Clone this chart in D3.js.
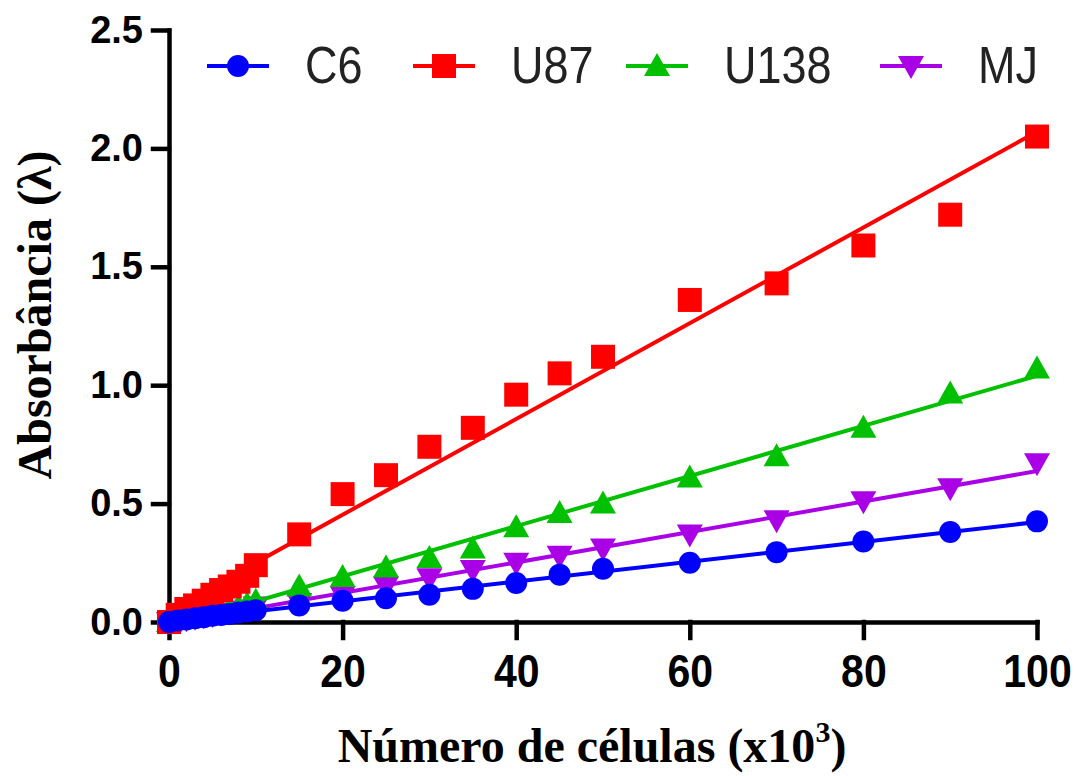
<!DOCTYPE html>
<html>
<head>
<meta charset="utf-8">
<script src="https://cdn.jsdelivr.net/npm/d3@7"></script>
<style>
  body { margin: 0; background: #fff; }
  svg { display: block; }
</style>
</head>
<body>
<svg id="chart"></svg>
<script>
// Data (x = number of cells x10^3, y = absorbance)
const cellCounts = [0, 1, 2, 3, 4, 5, 6, 7, 8, 9, 10, 15, 20, 25, 30, 35, 40, 45, 50, 60, 70, 80, 90, 100];
const c6Values   = [0.00, 0.006, 0.011, 0.016, 0.02, 0.026, 0.03, 0.034, 0.04, 0.044, 0.05, 0.07, 0.09, 0.10, 0.115, 0.14, 0.165, 0.20, 0.225, 0.25, 0.295, 0.34, 0.38, 0.425];
const u87Values  = [0.00, 0.03, 0.055, 0.07, 0.09, 0.115, 0.135, 0.15, 0.17, 0.195, 0.24, 0.37, 0.54, 0.62, 0.74, 0.82, 0.96, 1.05, 1.12, 1.36, 1.43, 1.59, 1.72, 2.05];
const u138Values = [0.00, 0.008, 0.016, 0.024, 0.032, 0.04, 0.048, 0.055, 0.062, 0.075, 0.09, 0.15, 0.19, 0.23, 0.27, 0.31, 0.40, 0.46, 0.50, 0.61, 0.70, 0.82, 0.965, 1.07];
const mjValues   = [0.00, 0.006, 0.012, 0.018, 0.024, 0.03, 0.036, 0.04, 0.047, 0.053, 0.065, 0.08, 0.11, 0.15, 0.185, 0.22, 0.25, 0.28, 0.31, 0.37, 0.43, 0.51, 0.565, 0.67];

const seriesNames = ['C6', 'U87', 'U138', 'MJ'];
const xTicks = [0, 20, 40, 60, 80, 100];
const yTicks = [0.0, 0.5, 1.0, 1.5, 2.0, 2.5];

const width = 1079;
const height = 776;

const series = [
    { name: 'C6',   values: c6Values,   color: '#0000ff', shape: 'circle' },
    { name: 'U87',  values: u87Values,  color: '#ff0000', shape: 'square' },
    { name: 'U138', values: u138Values, color: '#00c000', shape: 'up' },
    { name: 'MJ',   values: mjValues,   color: '#aa00e6', shape: 'down' }
];

const svg = d3.select('#chart')
    .attr('width', width)
    .attr('height', height);

const x = d3.scaleLinear().domain([0, 100]).range([169, 1037]);
const y = d3.scaleLinear().domain([0, 2.5]).range([622, 30]);

// marker path centred on 0,0
function markerPath(shape) {
    if (shape === 'circle') {
        const r = 11;
        return `M${-r},0A${r},${r} 0 1,0 ${r},0A${r},${r} 0 1,0 ${-r},0Z`;
    }
    if (shape === 'square') return 'M-12,-12H12V12H-12Z';
    if (shape === 'up') return 'M0,-13L13,10H-13Z';
    return 'M0,13L13,-10H-13Z';
}

// least squares fit
function linearFit(xs, ys) {
    const mx = d3.mean(xs), my = d3.mean(ys);
    let sxy = 0, sxx = 0;
    xs.forEach((xv, i) => {
        sxy += (xv - mx) * (ys[i] - my);
        sxx += (xv - mx) * (xv - mx);
    });
    const slope = sxy / sxx;
    return { slope: slope, intercept: my - slope * mx };
}

// Axes
const yAxis = d3.axisLeft(y)
    .tickValues(yTicks)
    .tickFormat(d3.format('.1f'))
    .tickSize(16)
    .tickSizeOuter(0)
    .tickPadding(10);

const gy = svg.append('g')
    .attr('transform', 'translate(169,0)')
    .call(yAxis);

gy.selectAll('text')
    .attr('font-family', 'Liberation Sans, Arial, sans-serif')
    .attr('font-weight', 'bold')
    .attr('font-size', 38)
    .attr('fill', '#000');

const xAxis = d3.axisBottom(x)
    .tickValues(xTicks)
    .tickSize(16)
    .tickSizeOuter(0);

const gx = svg.append('g')
    .attr('transform', 'translate(0,622)')
    .call(xAxis);

gx.selectAll('text')
    .attr('font-family', 'Liberation Sans, Arial, sans-serif')
    .attr('font-weight', 'bold')
    .attr('font-size', 41)
    .attr('fill', '#000')
    .attr('y', 0)
    .attr('dy', 0)
    .attr('transform', 'translate(0,65) scale(1,1.13)');

svg.selectAll('.domain, .tick line')
    .attr('stroke', '#000')
    .attr('stroke-width', 4.5)
    .attr('stroke-linecap', 'square');

// Series: draw last series first so C6 ends on top
const plot = svg.append('g');
series.slice().reverse().forEach(s => {
    const fit = linearFit(cellCounts, s.values);
    const g = plot.append('g');
    g.append('line')
        .attr('x1', x(0))
        .attr('y1', y(fit.intercept))
        .attr('x2', x(100))
        .attr('y2', y(fit.intercept + fit.slope * 100))
        .attr('stroke', s.color)
        .attr('stroke-width', 4);
    g.selectAll('path')
        .data(s.values)
        .enter()
        .append('path')
        .attr('d', markerPath(s.shape))
        .attr('transform', (v, i) => `translate(${x(cellCounts[i])},${y(v)})`)
        .attr('fill', s.color);
});

// Legend
const legendX = [207, 413, 626, 880];
const legend = svg.append('g');
series.forEach((s, i) => {
    const g = legend.append('g').attr('transform', `translate(${legendX[i]},66)`);
    g.append('line')
        .attr('x1', 0).attr('x2', 62)
        .attr('y1', 0).attr('y2', 0)
        .attr('stroke', s.color)
        .attr('stroke-width', 4);
    g.append('path')
        .attr('d', markerPath(s.shape))
        .attr('transform', 'translate(31,0)')
        .attr('fill', s.color);
    g.append('text')
        .attr('transform', 'translate(98,17) scale(1,1.15)')
        .attr('font-family', 'Liberation Sans, Arial, sans-serif')
        .attr('font-size', 45)
        .attr('fill', '#222')
        .text(seriesNames[i]);
});

// Axis titles
const xTitle = svg.append('text')
    .attr('x', 592)
    .attr('y', 762)
    .attr('text-anchor', 'middle')
    .attr('font-family', 'Liberation Serif, Times New Roman, serif')
    .attr('font-weight', 'bold')
    .attr('font-size', 48)
    .attr('fill', '#000');
xTitle.append('tspan').text('Número de células (x10');
xTitle.append('tspan').attr('font-size', 30).attr('dy', -20).text('3');
xTitle.append('tspan').attr('dy', 20).text(')');

svg.append('text')
    .attr('transform', 'translate(51,315) rotate(-90)')
    .attr('text-anchor', 'middle')
    .attr('font-family', 'Liberation Serif, Times New Roman, serif')
    .attr('font-weight', 'bold')
    .attr('font-size', 48)
    .attr('fill', '#000')
    .text('Absorbância (λ)');
</script>
</body>
</html>
